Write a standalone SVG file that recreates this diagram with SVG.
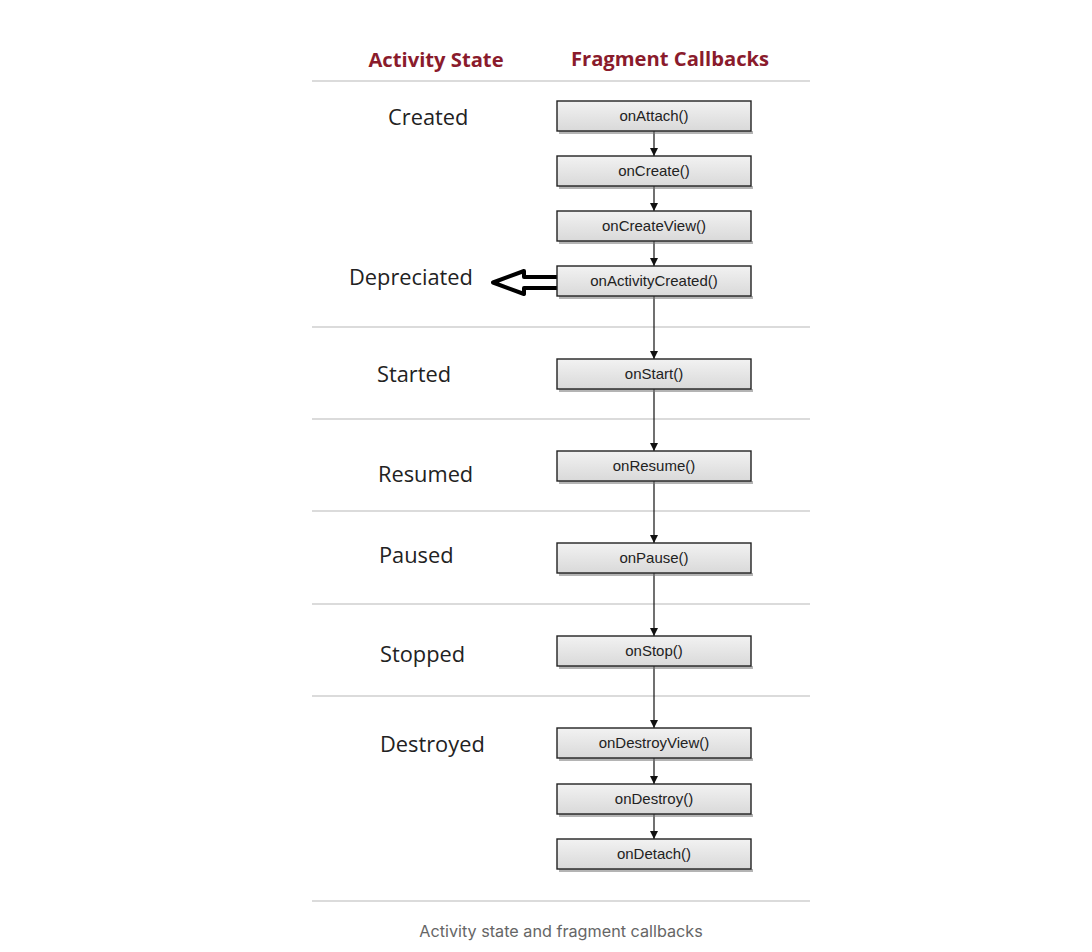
<svg xmlns="http://www.w3.org/2000/svg" width="1092" height="952" viewBox="0 0 1092 952">
<style>
.hdr{font-family:"Open Sans","Liberation Sans",sans-serif;font-weight:bold;font-size:20.2px;fill:#8a1b2c;text-anchor:middle}
.st{font-family:"Open Sans","Liberation Sans",sans-serif;font-size:21.8px;fill:#222}
.sep{stroke:#b8b8b8;stroke-width:1.2}
.box{fill:url(#g);stroke:#222;stroke-width:1.4}
.shd{fill:#777;opacity:0.55}
.bt{font-family:"Liberation Sans",Arial,sans-serif;font-size:15px;fill:#222;text-anchor:middle}
.con{stroke:#111;stroke-width:1.2;fill:none;marker-end:url(#ah)}
.cap{font-family:"Inter","Liberation Sans",sans-serif;font-size:16.2px;fill:#666;text-anchor:middle}
</style>
<defs>
<linearGradient id="g" x1="0" y1="0" x2="0" y2="1">
<stop offset="0" stop-color="#f2f2f2"/>
<stop offset="1" stop-color="#d9d9d9"/>
</linearGradient>
<marker id="ah" viewBox="0 0 10 10" refX="10" refY="5" markerWidth="8" markerHeight="8" markerUnits="userSpaceOnUse" orient="auto">
<path d="M0,0 L10,5 L0,10 z" fill="#111"/>
</marker>
</defs>
<rect width="1092" height="952" fill="#fff"/>
<text class="hdr" x="436" y="67">Activity State</text>
<text class="hdr" x="670" y="66">Fragment Callbacks</text>
<g id="separators">
<line class="sep" x1="312" y1="81" x2="810" y2="81"/>
<line class="sep" x1="312" y1="327" x2="810" y2="327"/>
<line class="sep" x1="312" y1="419" x2="810" y2="419"/>
<line class="sep" x1="312" y1="511" x2="810" y2="511"/>
<line class="sep" x1="312" y1="604" x2="810" y2="604"/>
<line class="sep" x1="312" y1="696" x2="810" y2="696"/>
<line class="sep" x1="312" y1="901" x2="810" y2="901"/>
</g>
<g id="states">
<text class="st" x="388" y="125">Created</text>
<text class="st" x="349" y="285">Depreciated</text>
<text class="st" x="377" y="382">Started</text>
<text class="st" x="378" y="482">Resumed</text>
<text class="st" x="379" y="563">Paused</text>
<text class="st" x="380" y="662">Stopped</text>
<text class="st" x="380" y="752">Destroyed</text>
</g>
<g id="connectors">
<line class="con" x1="654" y1="131" x2="654" y2="156"/>
<line class="con" x1="654" y1="186" x2="654" y2="211"/>
<line class="con" x1="654" y1="241" x2="654" y2="266"/>
<line class="con" x1="654" y1="296" x2="654" y2="359"/>
<line class="con" x1="654" y1="389" x2="654" y2="451"/>
<line class="con" x1="654" y1="481" x2="654" y2="543"/>
<line class="con" x1="654" y1="573" x2="654" y2="636"/>
<line class="con" x1="654" y1="666" x2="654" y2="728"/>
<line class="con" x1="654" y1="758" x2="654" y2="784"/>
<line class="con" x1="654" y1="814" x2="654" y2="839"/>
<path id="dep-arrow" d="M559,277 L524,277 L524,271 L493,282.5 L524,294 L524,288 L559,288 Z" fill="#fff" stroke="#000" stroke-width="4" stroke-linejoin="round"/>
</g>
<g id="onAttach"><rect class="shd" x="559" y="131" width="194" height="3"/><rect class="box" x="557" y="101" width="194" height="30"/><text class="bt" x="654" y="121">onAttach()</text></g>
<g id="onCreate"><rect class="shd" x="559" y="186" width="194" height="3"/><rect class="box" x="557" y="156" width="194" height="30"/><text class="bt" x="654" y="176">onCreate()</text></g>
<g id="onCreateView"><rect class="shd" x="559" y="241" width="194" height="3"/><rect class="box" x="557" y="211" width="194" height="30"/><text class="bt" x="654" y="231">onCreateView()</text></g>
<g id="onActivityCreated"><rect class="shd" x="559" y="296" width="194" height="3"/><rect class="box" x="557" y="266" width="194" height="30"/><text class="bt" x="654" y="286">onActivityCreated()</text></g>
<g id="onStart"><rect class="shd" x="559" y="389" width="194" height="3"/><rect class="box" x="557" y="359" width="194" height="30"/><text class="bt" x="654" y="379">onStart()</text></g>
<g id="onResume"><rect class="shd" x="559" y="481" width="194" height="3"/><rect class="box" x="557" y="451" width="194" height="30"/><text class="bt" x="654" y="471">onResume()</text></g>
<g id="onPause"><rect class="shd" x="559" y="573" width="194" height="3"/><rect class="box" x="557" y="543" width="194" height="30"/><text class="bt" x="654" y="563">onPause()</text></g>
<g id="onStop"><rect class="shd" x="559" y="666" width="194" height="3"/><rect class="box" x="557" y="636" width="194" height="30"/><text class="bt" x="654" y="656">onStop()</text></g>
<g id="onDestroyView"><rect class="shd" x="559" y="758" width="194" height="3"/><rect class="box" x="557" y="728" width="194" height="30"/><text class="bt" x="654" y="748">onDestroyView()</text></g>
<g id="onDestroy"><rect class="shd" x="559" y="814" width="194" height="3"/><rect class="box" x="557" y="784" width="194" height="30"/><text class="bt" x="654" y="804">onDestroy()</text></g>
<g id="onDetach"><rect class="shd" x="559" y="869" width="194" height="3"/><rect class="box" x="557" y="839" width="194" height="30"/><text class="bt" x="654" y="859">onDetach()</text></g>
<text class="cap" x="561" y="937">Activity state and fragment callbacks</text>
</svg>
